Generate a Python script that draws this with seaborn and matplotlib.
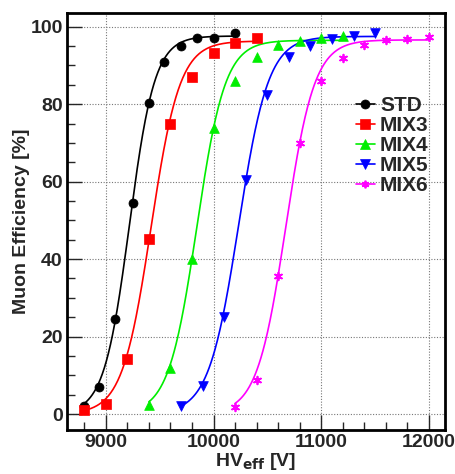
import numpy as np
import pandas as pd
import matplotlib
matplotlib.use("Agg")
import matplotlib.pyplot as plt
from matplotlib.lines import Line2D
from matplotlib.ticker import MultipleLocator
import seaborn as sns

# Measured efficiency points per gas mixture
gases = ["STD", "MIX3", "MIX4", "MIX5", "MIX6"]
hv_std = [8800, 8940, 9090, 9250, 9400, 9540, 9700, 9850, 10000, 10200]
eff_std = [2.0, 7.0, 24.5, 54.5, 80.4, 90.8, 94.9, 97.2, 97.2, 98.5]
hv_mix3 = [8800, 9000, 9200, 9400, 9600, 9800, 10000, 10200, 10400]
eff_mix3 = [1.0, 2.5, 14.2, 45.3, 74.8, 87.1, 93.2, 95.8, 97.2]
hv_mix4 = [9400, 9600, 9800, 10000, 10200, 10400, 10600, 10800, 11000, 11200]
eff_mix4 = [2.3, 11.8, 40.0, 73.8, 85.9, 92.1, 95.3, 96.4, 97.1, 97.5]
hv_mix5 = [9700, 9900, 10100, 10300, 10500, 10700, 10900, 11100, 11300, 11500]
eff_mix5 = [2.1, 7.2, 25.1, 60.3, 82.4, 92.1, 95.1, 96.8, 97.7, 98.4]
hv_mix6 = [10200, 10400, 10600, 10800, 11000, 11200, 11400, 11600, 11800, 12000]
eff_mix6 = [1.7, 8.8, 35.7, 70.1, 85.9, 91.9, 95.3, 96.6, 96.9, 97.3]

# Sigmoid fit parameters: eff = plateau / (1 + exp(-lam * (HV - hv50)))
fit_plateau = [97.6, 96.3, 96.5, 97.5, 96.6]
fit_lambda = [0.00848, 0.0075, 0.00762, 0.0072, 0.00751]
fit_hv50 = [9219, 9420, 9845, 10233, 10671]

colors = ["#000000", "#ff0000", "#00ee00", "#0000ff", "#ff00ff"]
markers = ["o", "s", "^", "v", (6, 2, 0)]
msizes = [6.5, 7, 7, 7, 5.5]

hv_all = [hv_std, hv_mix3, hv_mix4, hv_mix5, hv_mix6]
eff_all = [eff_std, eff_mix3, eff_mix4, eff_mix5, eff_mix6]

frames = []
for g, hv, ef in zip(gases, hv_all, eff_all):
    frames.append(pd.DataFrame({"gas": g, "HV": hv, "eff": ef}))
points = pd.concat(frames, ignore_index=True)

curves = []
for g, hv, p, lam, h50 in zip(gases, hv_all, fit_plateau, fit_lambda, fit_hv50):
    x = np.linspace(min(hv), max(hv), 300)
    curves.append(pd.DataFrame({"gas": g, "HV": x,
                                "eff": p / (1 + np.exp(-lam * (x - h50)))}))
curves = pd.concat(curves, ignore_index=True)

sns.set_style("ticks")
plt.rcParams["font.family"] = ["Liberation Sans", "DejaVu Sans"]
plt.rcParams["font.weight"] = "bold"

fig = plt.figure(figsize=(4.56, 4.74), dpi=100)
ax = fig.add_axes([0.147, 0.093, 0.829, 0.880])

palette = dict(zip(gases, colors))
sns.lineplot(data=curves, x="HV", y="eff", hue="gas", palette=palette,
             linewidth=1.2, legend=False, ax=ax, sort=False, estimator=None)
for g, m, ms in zip(gases, markers, msizes):
    sub = points[points["gas"] == g]
    sns.scatterplot(data=sub, x="HV", y="eff", color=palette[g], marker=m,
                    s=ms ** 2, edgecolor=palette[g],
                    linewidth=1.3 if isinstance(m, tuple) else 0.5,
                    legend=False, ax=ax, zorder=3)

ax.set_xlim(8640, 12150)
ax.set_ylim(-4.1, 103.6)
ax.xaxis.set_major_locator(MultipleLocator(1000))
ax.xaxis.set_minor_locator(MultipleLocator(200))
ax.yaxis.set_major_locator(MultipleLocator(20))
ax.yaxis.set_minor_locator(MultipleLocator(5))
ax.tick_params(axis="both", which="major", direction="in", length=11,
               width=1.0, labelsize=14, pad=3)
ax.tick_params(axis="both", which="minor", direction="in", length=6, width=1.0)
ax.tick_params(axis="x", which="major", pad=3)
for lab in ax.get_xticklabels() + ax.get_yticklabels():
    lab.set_fontweight("bold")

ax.grid(True, which="major", color="#777777", linestyle=(0, (1, 1.5)),
        linewidth=0.8)
for s in ax.spines.values():
    s.set_linewidth(2)
    s.set_color("black")

ax.set_xlabel(r"HV$_{\mathbf{eff}}$ [V]", fontsize=14, fontweight="bold",
              labelpad=0)
ax.set_ylabel("Muon Efficiency [%]", fontsize=14, fontweight="bold",
              labelpad=0)

handles = [Line2D([0], [0], color=c, marker=m, markersize=ms,
                  markeredgewidth=1.3 if isinstance(m, tuple) else 0.5,
                  linewidth=1.2)
           for c, m, ms in zip(colors, markers, msizes)]
leg = ax.legend(handles, gases, loc="upper left",
                bbox_to_anchor=(0.715, 0.845), frameon=False,
                handlelength=0.9, handletextpad=0.25, labelspacing=0.05,
                prop={"weight": "bold", "size": 15})

fig.savefig("out.png", dpi=100)
